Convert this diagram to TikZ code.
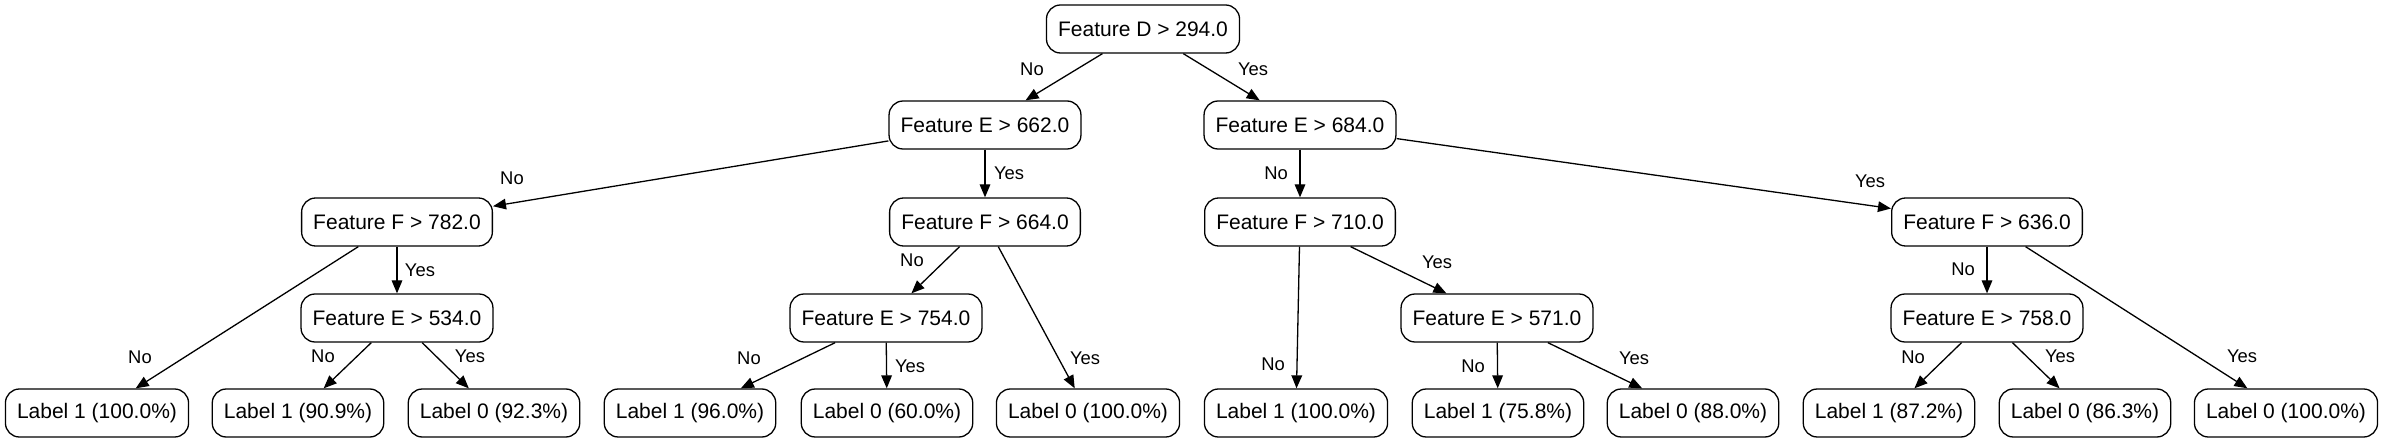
\documentclass[tikz,border=0pt]{standalone}
\usepackage{fontspec}
\setmainfont{Liberation Sans}
\usetikzlibrary{arrows.meta}

\begin{document}
\begin{tikzpicture}[x=0.5pt,y=-0.5pt,line width=0.65pt,font=\fontsize{10.5}{12}\selectfont]
    \tikzstyle{FT} = [rectangle, rounded corners=7pt, draw=black, minimum height=24pt, inner xsep=5.8pt, text centered]
    \tikzstyle{LF} = [FT]
    \tikzstyle{EL} = [font=\fontsize{9.2}{11}\selectfont, inner sep=0pt]
    \tikzstyle{AR} = [-{Triangle[length=6.5pt,width=5.3pt]}]
    \useasboundingbox (0,0) rectangle (2384,443);
    % split tests
    \node (d294) at (1143,29)  [FT] {Feature D > 294.0};
    \node (e662) at (985,125)  [FT] {Feature E > 662.0};
    \node (e684) at (1300,125) [FT] {Feature E > 684.0};
    \node (f782) at (397,222)  [FT] {Feature F > 782.0};
    \node (f664) at (985,222)  [FT] {Feature F > 664.0};
    \node (f710) at (1300,222) [FT] {Feature F > 710.0};
    \node (f636) at (1987,222) [FT] {Feature F > 636.0};
    \node (e534) at (397,318)  [FT] {Feature E > 534.0};
    \node (e754) at (886,318)  [FT] {Feature E > 754.0};
    \node (e571) at (1497,318) [FT] {Feature E > 571.0};
    \node (e758) at (1987,318) [FT] {Feature E > 758.0};
    % leaves
    \foreach \x/\n/\txt in {97/lf1/{Label 1 (100.0\%)}, 298/lf2/{Label 1 (90.9\%)}, 494/lf3/{Label 0 (92.3\%)},
      690/lf4/{Label 1 (96.0\%)}, 887/lf5/{Label 0 (60.0\%)}, 1088/lf6/{Label 0 (100.0\%)},
      1296/lf7/{Label 1 (100.0\%)}, 1498/lf8/{Label 1 (75.8\%)}, 1693/lf9/{Label 0 (88.0\%)},
      1889/lf10/{Label 1 (87.2\%)}, 2085/lf11/{Label 0 (86.3\%)}, 2286/lf12/{Label 0 (100.0\%)}}
      {\node (\n) at (\x,413) [LF] {\txt};}
    % edges
    \foreach \a/\b in {d294/e662, d294/e684, e662/f782, e662/f664, e684/f710, e684/f636,
      f782/lf1, f782/e534, f664/e754, f664/lf6, f710/lf7, f710/e571, f636/e758, f636/lf12,
      e534/lf2, e534/lf3, e754/lf4, e754/lf5, e571/lf8, e571/lf9, e758/lf10, e758/lf11}
      {\draw [AR] (\a) -- (\b);}
    % edge labels
    \foreach \x/\y/\txt [count=\i] in {1032/69/No, 1253/69/Yes, 512/178/No, 1009/173/Yes, 1276/173/No, 1870/181/Yes,
      140/357/No, 420/270/Yes, 912/260/No, 1085/358/Yes, 1273/364/No, 1437/262/Yes, 1963/269/No, 2242/356/Yes,
      323/356/No, 470/356/Yes, 749/358/No, 910/366/Yes, 1473/366/No, 1634/358/Yes, 1913/357/No, 2060/356/Yes}
      {\node (lb\i) at (\x,\y) [EL] {\txt};}
\end{tikzpicture}
\end{document}
